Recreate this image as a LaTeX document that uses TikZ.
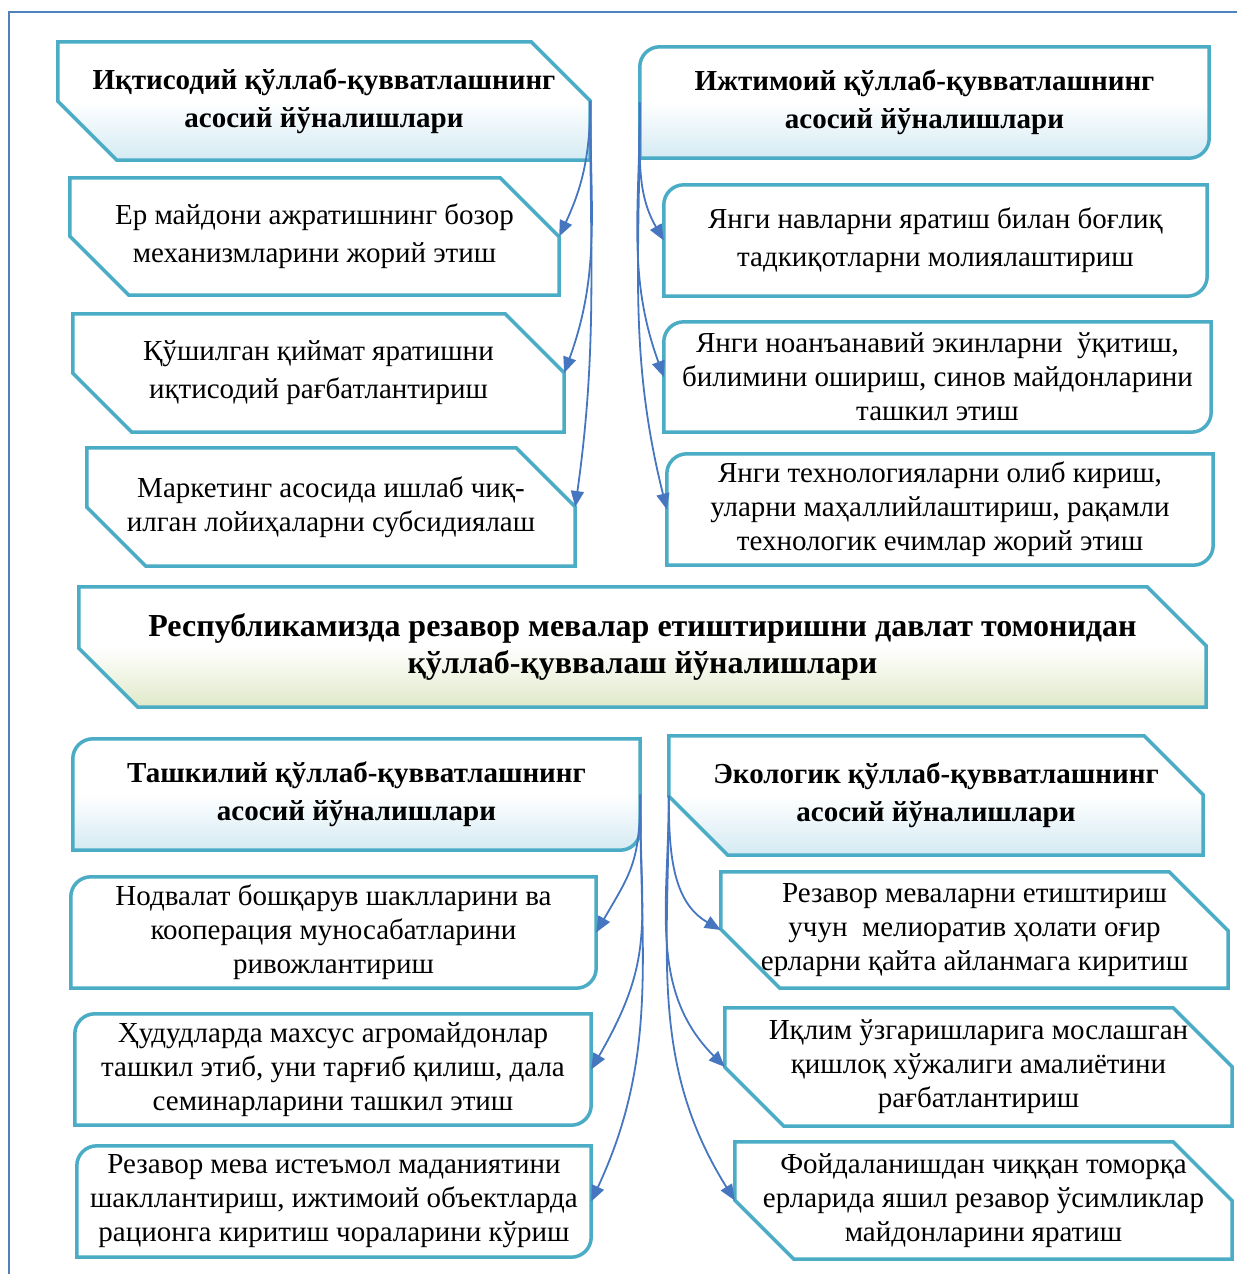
\documentclass[tikz,border=0pt]{standalone}
\usepackage{fontspec}
\setmainfont{Liberation Serif}
\usetikzlibrary{arrows.meta,calc,backgrounds}

\definecolor{framecol}{HTML}{4F81BD}
\definecolor{edgecol}{HTML}{4BACC6}
\definecolor{linkcol}{HTML}{4676C0}
\definecolor{hdrblue}{HTML}{D4EAF3}
\definecolor{hdrgreen}{HTML}{E0E9C8}

% outline of a box with the top right and bottom left corners cut off
\newcommand{\snipbox}[2]{%
  \path[#1] (#2.north west) -- ($(#2.north east)+(-59pt,0)$) -- ($(#2.north east)+(0,-59pt)$)
    -- (#2.south east) -- ($(#2.south west)+(59pt,0)$) -- ($(#2.south west)+(0,59pt)$) -- cycle;}
% outline of a box with the top left and bottom right corners rounded
\newcommand{\roundbox}[2]{%
  \path[#1] (#2.west) [rounded corners=20pt] -- (#2.north west) -- (#2.north)
    [sharp corners] -- (#2.north east) -- (#2.east)
    [rounded corners=20pt] -- (#2.south east) -- (#2.south)
    [sharp corners] -- (#2.south west) -- cycle;}

\tikzset{
  txt/.style={inner sep=0pt, align=center, font=\fontsize{29}{34}\selectfont},
  txtwide/.style={txt, font=\fontsize{29}{38}\selectfont},
  hdr/.style={txt, font=\fontsize{29}{38}\selectfont\bfseries},
  plainbox/.style={draw=edgecol, line width=3.5pt, fill=white},
  bluebox/.style={draw=edgecol, line width=3.5pt, top color=white, bottom color=hdrblue, middle color=white},
  greenbox/.style={draw=edgecol, line width=3.5pt, top color=white, bottom color=hdrgreen, middle color=white},
  link/.style={draw=linkcol, line width=1.8pt, -{Triangle[length=16pt,width=13pt]}},
  frame/.style={draw=framecol, line width=2pt}
}

\begin{document}
\begin{tikzpicture}[x=1pt, y=-1pt]
    \useasboundingbox (0,0) rectangle (1237,1274);

    % economic support
    \node[hdr, minimum width=532pt, minimum height=118pt] (hA) at (324,101) {Иқтисодий қўллаб-қувватлашнинг\\асосий йўналишлари};
    \node[txtwide, minimum width=489pt, minimum height=117pt] (eb1) at (314.5,236.5) {Ер майдони ажратишнинг бозор\\механизмларини жорий этиш};
    \node[txtwide, minimum width=491pt, minimum height=118pt] (eb2) at (318.5,373) {Қўшилган қиймат яратишни\\иқтисодий рағбатлантириш};
    \node[txt, minimum width=488pt, minimum height=118pt] (eb3) at (331,507) {Маркетинг асосида ишлаб чиқ-\\илган лойиҳаларни субсидиялаш};

    % social support
    \node[hdr, minimum width=569pt, minimum height=111pt] (hB) at (924.5,102.5) {Ижтимоий қўллаб-қувватлашнинг\\асосий йўналишлари};
    \node[txtwide, minimum width=543pt, minimum height=111pt] (sb1) at (935.5,240.5) {Янги навларни яратиш билан боғлиқ\\тадкиқотларни молиялаштириш};
    \node[txt, minimum width=547pt, minimum height=110pt] (sb2) at (937.5,377) {Янги ноанъанавий экинларни\ \ ўқитиш,\\билимини ошириш, синов майдонларини\\ташкил этиш};
    \node[txt, minimum width=546pt, minimum height=111pt] (sb3) at (940,509.5) {Янги технологияларни олиб кириш,\\уларни маҳаллийлаштириш, рақамли\\технологик ечимлар жорий этиш};

    % title
    \node[hdr, font=\fontsize{32}{37}\selectfont\bfseries, minimum width=1127pt, minimum height=120pt] (title) at (642.5,647) {Республикамизда резавор мевалар етиштиришни давлат томонидан\\қўллаб-қуввалаш йўналишлари};

    % organisational support
    \node[hdr, minimum width=567pt, minimum height=111pt] (hC) at (356.5,794.5) {Ташкилий қўллаб-қувватлашнинг\\асосий йўналишлари};
    \node[txt, minimum width=525pt, minimum height=111pt] (ob1) at (333.5,932.5) {Нодвалат бошқарув шаклларини ва\\кооперация муносабатларини\\ривожлантириш};
    \node[txt, minimum width=516pt, minimum height=111pt] (ob2) at (333,1069.5) {Ҳудудларда махсус агромайдонлар\\ташкил этиб, уни тарғиб қилиш, дала\\семинарларини ташкил этиш};
    \node[txt, minimum width=514pt, minimum height=111pt] (ob3) at (334,1201.5) {Резавор мева истеъмол маданиятини\\шакллантириш, ижтимоий объектларда\\рационга киритиш чораларини кўриш};

    % ecological support
    \node[hdr, minimum width=534pt, minimum height=119pt] (hD) at (936,795.5) {Экологик қўллаб-қувватлашнинг\\асосий йўналишлари};
    \node[txt, minimum width=507pt, minimum height=116pt] (cb1) at (974.5,930) {Резавор меваларни етиштириш\\учун\ \ мелиоратив ҳолати оғир\\ерларни қайта айланмага киритиш};
    \node[txt, minimum width=507pt, minimum height=118pt] (cb2) at (978.5,1067) {Иқлим ўзгаришларига мослашган\\қишлоқ хўжалиги амалиётини\\рағбатлантириш};
    \node[txt, minimum width=497pt, minimum height=117pt] (cb3) at (983.5,1200.5) {Фойдаланишдан чиққан томорқа\\ерларида яшил резавор ўсимликлар\\майдонларини яратиш};

    \begin{scope}[on background layer]
        \draw[frame] (9,1274) -- (9,12) -- (1237,12);
        \snipbox{bluebox}{hA}
        \snipbox{plainbox}{eb1}
        \snipbox{plainbox}{eb2}
        \snipbox{plainbox}{eb3}
        \roundbox{bluebox}{hB}
        \roundbox{plainbox}{sb1}
        \roundbox{plainbox}{sb2}
        \roundbox{plainbox}{sb3}
        \snipbox{greenbox}{title}
        \roundbox{bluebox}{hC}
        \roundbox{plainbox}{ob1}
        \roundbox{plainbox}{ob2}
        \roundbox{plainbox}{ob3}
        \snipbox{bluebox}{hD}
        \snipbox{plainbox}{cb1}
        \snipbox{plainbox}{cb2}
        \snipbox{plainbox}{cb3}
    \end{scope}

    \draw[link] (hA.east) to[out=-90, in=65] (eb1.east);
    \draw[link] (hA.east) to[out=-90, in=70] (eb2.east);
    \draw[link] (hA.east) to[out=-90, in=82] (eb3.east);
    \draw[link] (hB.west) to[out=-90, in=120] (sb1.west);
    \draw[link] (hB.west) to[out=-90, in=110] (sb2.west);
    \draw[link] (hB.west) to[out=-90, in=104] (sb3.west);
    \draw[link] (hC.east) to[out=-90, in=60, looseness=1.2] (ob1.east);
    \draw[link] (hC.east) to[out=-90, in=60, looseness=1.2] (ob2.east);
    \draw[link] (hC.east) to[out=-90, in=65] (ob3.east);
    \draw[link] (hD.west) to[out=-90, in=150] (cb1.west);
    \draw[link] (hD.west) to[out=-90, in=135] (cb2.west);
    \draw[link] (hD.west) to[out=-90, in=122] (cb3.west);
\end{tikzpicture}
\end{document}
